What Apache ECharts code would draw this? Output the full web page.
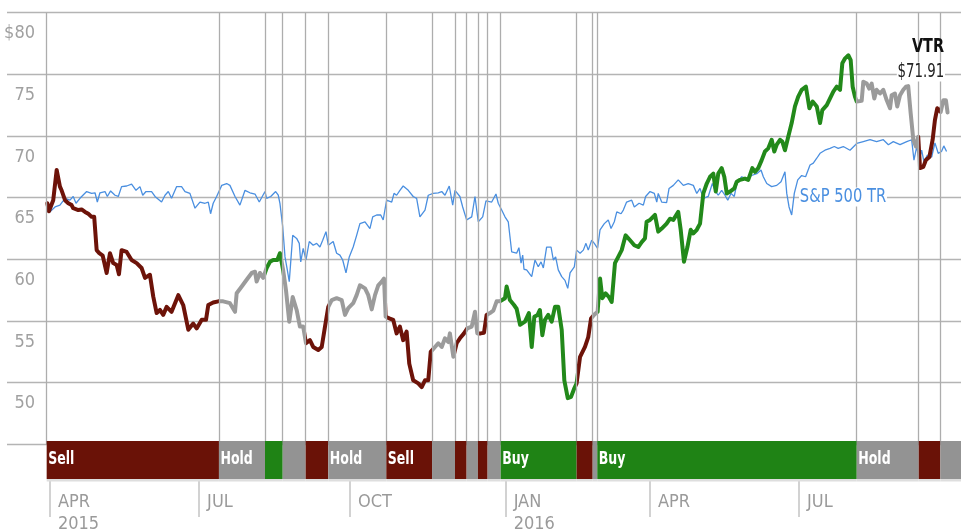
<!DOCTYPE html>
<html>
<head>
    <meta charset="utf-8">
    <title>VTR rating history</title>
    <script src="https://cdn.jsdelivr.net/npm/echarts@6/dist/echarts.min.js"></script>
    <style>
        html, body { margin: 0; padding: 0; background: #fff; }
        #chart { width: 961px; height: 529px; }
    </style>
</head>
<body>
<div id="chart"></div>
<script>
    // days counted from 2015-04-01
    var vtrDays = [-1.6, -0.6, 0, 2.0, 4.1, 5.1, 6.1, 7.1, 9.2, 11.2, 13.2, 14.2, 17.3, 19.3, 21.4, 23.4, 25.4, 27.0,
        28.5, 30.1, 32.2, 34.6, 36.6, 38.6, 40.7, 42.1, 43.7, 46.8, 49.8, 52.9, 55.9, 58.0, 61.0, 63.0, 65.1, 67.1,
        69.1, 71.2, 74.2, 78.3, 81.3, 84.4, 87.4, 89.5, 92.6, 95.2, 96.6, 99.6, 102.7, 105.7, 109.8, 112.9, 113.9,
        117.0, 120.0, 123.1, 125.1, 126.1, 128.1, 130.1, 132.2, 134.2, 136.2, 138.7, 140.3, 141.4, 142.3, 144.0,
        146.0, 148.1, 150.5, 152.5, 154.5, 156.2, 158.6, 160.6, 163.7, 165.8, 167.8, 169.8, 171.9, 174.9, 178.0,
        180.0, 182.0, 185.0, 187.1, 189.1, 192.2, 194.2, 196.3, 198.3, 200.3, 202.4, 203.8, 204.8, 207.4, 209.4,
        211.5, 213.5, 215.5, 217.6, 219.2, 221.6, 224.7, 226.8, 228.8, 230.8, 232.3, 234.9, 236.9, 239.0, 241.0,
        243.0, 244.0, 246.1, 248.1, 250.1, 252.6, 254.6, 257.3, 259.3, 260.7, 262.8, 264.8, 266.4, 268.4, 270.5,
        272.5, 274.5, 277.6, 278.6, 280.6, 283.1, 284.7, 286.8, 289.8, 292.2, 293.9, 295.5, 297.5, 298.9, 300.4,
        302.0, 304.0, 306.1, 308.1, 310.1, 312.2, 313.8, 315.9, 317.9, 319.9, 321.3, 323.4, 326.4, 328.4, 330.1,
        331.9, 334.1, 335.6, 337.0, 339.0, 341.0, 342.7, 344.7, 346.7, 348.8, 351.2, 353.9, 356.5, 358.9, 361.0,
        363.0, 364.0, 366.1, 369.1, 371.1, 373.2, 376.2, 378.3, 380.3, 383.3, 384.8, 386.8, 388.9, 390.9, 392.5,
        394.6, 396.6, 398.6, 400.7, 402.7, 404.7, 406.2, 407.7, 409.8, 411.4, 412.9, 414.9, 417.5, 419.0, 421.0,
        424.0, 426.0, 428.5, 430.1, 432.1, 434.2, 436.2, 438.2, 440.3, 441.9, 443.4, 445.4, 446.8, 448.4, 450.4,
        452.5, 454.5, 456.5, 458.6, 461.2, 463.3, 465.3, 467.8, 469.8, 471.2, 473.9, 475.9, 477.9, 480.0, 482.0,
        483.4, 485.1, 487.1, 488.5, 489.7, 491.1, 492.2, 495.2, 496.2, 498.3, 499.8, 501.3, 502.9, 504.3, 506.4,
        508.4, 510.5, 512.5, 513.5, 515.5, 516.9, 518.6, 520.6, 522.2, 523.6, 525.1, 526.7, 528.3, 529.7, 530.8,
        532.8, 534.4, 536.5, 538.5, 539.9, 541.3, 543.4, 545.0, 546.6, 547.6];
    var vtrPrices = [64.55, 63.9, 64.0, 64.8, 67.25, 67.4, 65.9, 65.6, 64.8, 64.55, 64.4, 64.15, 64.0, 64.05, 63.85, 63.7, 63.45, 63.45,
        60.75, 60.5, 60.3, 58.9, 60.5, 59.7, 59.55, 58.8, 60.75, 60.6, 59.95, 59.7, 59.3, 58.5, 58.75, 57.0, 55.65, 55.9,
        55.5, 56.15, 55.75, 57.1, 56.3, 54.3, 54.8, 54.4, 55.1, 55.1, 56.3, 56.5, 56.6, 56.6, 56.45, 55.75, 57.25,
        57.8, 58.35, 58.9, 59.0, 58.2, 58.9, 58.5, 59.3, 59.8, 59.95, 59.95, 60.5, 60.6, 59.1, 57.5,
        54.95, 56.95, 55.9, 54.55, 54.55, 53.2, 53.45, 52.9, 52.65, 52.9, 54.55, 56.15, 56.7, 56.85, 56.7,
        55.5, 56.05, 56.45, 57.1, 57.9, 57.65, 57.1, 55.95, 57.1, 57.9, 58.2, 58.45, 55.35, 55.2, 55.1,
        54.0, 54.55, 53.45, 54.15, 51.55, 50.2, 49.95, 49.65, 50.2, 50.2, 52.5, 52.9, 53.2, 52.9, 53.6,
        53.3, 54.0, 52.1, 53.2, 53.6, 54.0, 54.4, 54.55, 55.75, 54.0, 54.0, 54.05, 55.5, 55.65, 55.85,
        56.6, 56.6, 56.85, 57.8, 56.7, 56.3, 56.0, 54.7, 54.95, 55.65, 52.9, 55.35, 55.5, 55.9, 53.85,
        55.1, 55.5, 54.95, 56.15, 56.15, 54.3, 50.2, 48.75, 48.85, 49.55, 49.95, 52.1, 52.9, 53.7, 55.2,
        55.5, 55.75, 58.45, 56.85, 57.25, 56.95, 56.55, 59.7, 60.2, 60.75, 61.95, 61.55, 61.15, 61.0, 61.4,
        61.7, 63.05, 63.2, 63.6, 62.25, 62.5, 62.9, 63.3, 63.2, 63.85, 62.4, 59.8, 61.0, 62.4, 62.1,
        62.4, 62.9, 65.35, 66.15, 66.7, 66.95, 65.5, 66.95, 67.4, 66.7, 65.35, 65.5, 65.75, 66.3, 66.45,
        66.55, 66.45, 67.4, 67.1, 67.4, 68.05, 68.75, 69.0, 69.7, 68.75, 69.3, 69.7, 69.55, 68.85, 69.95,
        71.05, 72.4, 73.2, 73.75, 74.0, 72.25, 72.8, 72.4, 71.05, 72.1, 72.5, 73.05, 73.6, 74.0, 73.75,
        75.9, 76.3, 76.55, 76.15, 74.0, 73.2, 72.8, 72.85, 74.4, 74.25, 73.85, 74.25, 73.05, 73.75, 73.45,
        73.75, 72.9, 72.25, 73.3, 73.45, 72.4, 73.3, 73.75, 74.0, 74.05, 71.85, 69.7, 69.15, 69.95, 67.4,
        67.5, 68.05, 68.3, 69.7, 71.3, 72.25, 71.95, 72.9, 72.9, 71.91];

    var spDays = [-1.6, 0, 3.1, 6.1, 9.2, 12.2, 14.2, 15.9, 18.3, 22.4, 25.4, 27.5, 28.9, 30.5, 33.6, 35.0, 37.0, 39.7,
        41.7, 43.7, 46.8, 49.8, 52.5, 54.9, 56.6, 58.6, 62.0, 64.1, 68.1, 70.2, 72.2, 74.2, 77.3, 80.3, 82.4, 85.4,
        88.5, 91.5, 94.6, 96.6, 98.0, 99.6, 101.7, 104.8, 107.8, 109.8, 112.9, 115.9, 119.0, 122.0, 125.1, 127.7,
        131.2, 132.2, 134.7, 137.7, 139.3, 140.3, 142.0, 143.4, 144.8, 146.0, 148.1, 150.5, 152.1, 153.0, 154.5,
        156.2, 158.2, 160.6, 162.7, 164.7, 166.4, 168.4, 169.8, 172.8, 174.9, 176.9, 178.6, 180.6, 182.6, 185.0,
        187.1, 189.1, 192.2, 195.2, 196.9, 199.3, 201.8, 203.3, 205.4, 208.5, 209.9, 211.5, 213.5, 215.5, 218.6,
        221.6, 223.7, 225.7, 228.8, 230.8, 233.8, 236.9, 239.0, 241.0, 243.6, 245.7, 247.1, 250.1, 251.8, 254.2,
        257.3, 259.3, 261.3, 264.0, 266.0, 269.5, 272.1, 273.5, 275.6, 277.6, 279.6, 281.7, 284.7, 286.1, 287.4,
        288.4, 289.2, 290.8, 293.9, 295.9, 297.9, 299.6, 301.0, 303.0, 305.7, 307.1, 308.5, 310.1, 312.2, 314.2,
        315.9, 317.3, 319.9, 321.3, 323.4, 325.4, 327.0, 328.4, 330.5, 332.1, 334.1, 335.6, 338.2, 340.6, 342.3,
        344.3, 345.8, 348.4, 349.8, 351.8, 354.9, 356.5, 359.4, 362.0, 363.4, 366.1, 368.7, 370.2, 371.1, 373.2,
        376.2, 377.7, 380.3, 383.3, 386.4, 389.4, 392.5, 394.6, 396.6, 398.6, 401.6, 404.1, 405.7, 407.7, 409.8,
        411.8, 413.5, 415.5, 417.5, 419.0, 422.0, 425.1, 428.1, 431.2, 433.8, 435.2, 437.3, 440.3, 443.4, 446.0,
        448.4, 449.5, 450.9, 452.5, 454.1, 456.2, 458.6, 461.0, 463.7, 465.7, 467.8, 469.8, 472.8, 475.9, 478.5,
        480.9, 484.0, 488.1, 492.2, 496.2, 500.3, 504.3, 508.4, 511.5, 514.5, 518.6, 522.7, 525.7, 527.1, 528.8,
        530.3, 531.8, 533.2, 535.2, 537.9, 539.9, 541.9, 543.9, 545.3, 547.0];
    var spValues = [64.55, 63.85, 64.25, 64.4, 64.95, 64.8, 65.1, 64.55, 64.95, 65.5, 65.35, 65.4, 64.65, 65.4, 65.5, 65.1, 65.55, 65.2,
        65.1, 65.9, 65.95, 66.1, 65.6, 65.9, 65.2, 65.5, 65.5, 65.1, 64.65, 65.2, 65.5, 64.95, 65.9, 65.9, 65.5, 65.35,
        64.15, 64.65, 64.55, 64.65, 63.7, 64.55, 65.1, 66.0, 66.15, 66.0, 65.1, 64.4, 65.6, 65.4, 65.3, 64.65,
        65.5, 64.95, 65.1, 65.5, 65.2, 64.55, 62.65, 60.2, 59.15, 58.2, 61.95, 61.7, 61.3, 59.8, 60.9,
        59.95, 61.45, 61.15, 61.3, 61.0, 61.55, 62.25, 61.15, 61.45, 60.5, 60.35, 59.95, 58.9, 60.2, 61.0,
        61.95, 62.9, 63.05, 62.5, 63.45, 63.6, 63.6, 63.2, 64.8, 64.65, 65.35, 65.2, 65.6, 65.95, 65.6,
        65.1, 64.95, 63.45, 64.0, 65.2, 65.35, 65.4, 65.5, 65.2, 65.95, 64.4, 65.6, 65.1, 64.25, 63.2,
        63.45, 65.1, 63.05, 63.45, 64.75, 64.65, 65.3, 64.55, 64.0, 63.45, 63.05, 60.6, 60.5, 60.95, 59.7,
        60.35, 59.2, 59.15, 58.6, 59.95, 59.4, 59.8, 59.3, 61.0, 61.0, 59.95, 60.2, 59.15, 58.6, 58.3,
        57.65, 58.9, 59.4, 60.75, 60.5, 60.75, 61.3, 60.75, 61.55, 61.3, 60.9, 62.4, 62.9, 63.2, 62.5,
        63.05, 63.85, 63.7, 64.0, 64.65, 64.8, 64.25, 64.55, 64.4, 65.1, 65.5, 65.35, 64.65, 65.35, 64.65,
        64.6, 65.75, 66.0, 66.45, 66.0, 66.15, 66.0, 65.35, 65.75, 64.95, 65.1, 66.15, 65.6, 65.2, 65.6,
        65.2, 64.8, 65.35, 65.1, 66.15, 66.7, 66.55, 66.8, 66.95, 67.25, 66.7, 66.15, 65.9, 66.0, 66.3,
        67.1, 65.35, 64.25, 63.6, 65.35, 66.45, 66.8, 66.7, 67.65, 67.8, 68.2, 68.6, 68.85, 69.0, 69.15,
        69.0, 69.15, 68.85, 69.4, 69.55, 69.7, 69.55, 69.7, 69.3, 69.55, 69.3, 69.55, 69.7, 68.05, 69.15,
        68.05, 68.85, 67.9, 68.45, 68.3, 69.45, 68.6, 68.75, 69.2, 68.75];

    // analyst rating periods (start day), last one runs to the chart edge
    var ratingStarts = [-2, 103.1, 131.2, 142.0, 156.0, 169.8, 205.2, 233.1, 247.1, 254.2, 261.1, 267.0, 275.0,
        321.3, 331.1, 333.9, 492.2, 530.0, 543.2];
    var ratingNames = ['Sell', 'Hold', 'Buy', 'Hold', 'Sell', 'Hold', 'Sell', 'Hold', 'Sell', 'Hold', 'Sell', 'Hold', 'Buy',
        'Sell', 'Hold', 'Buy', 'Hold', 'Sell', 'Hold'];

    var tickDays = [0, 91, 183, 278, 366, 457];
    var tickLabels = ['APR\n2015', 'JUL', 'OCT', 'JAN\n2016', 'APR', 'JUL'];
    var yTicks = [50, 55, 60, 65, 70, 75, 80];

    var X_MIN = -26.2, X_MAX = 555.8;
    var FONT = "'DejaVu Sans Condensed', 'DejaVu Sans', sans-serif";
    var bandColor = {Sell: '#6a1207', Hold: '#939393', Buy: '#1f8315'};
    var lineColor = {Sell: '#6d1309', Hold: '#9b9b9b', Buy: '#22891a'};

    var vtrData = vtrDays.map(function (d, i) { return [d, vtrPrices[i]]; });
    var spData = spDays.map(function (d, i) { return [d, spValues[i]]; });

    var bandData = ratingStarts.map(function (s, i) {
        var e = i < ratingStarts.length - 1 ? ratingStarts[i + 1] : X_MAX;
        return [s, e, i];
    });

    var pieces = bandData.map(function (b, i) {
        var p = {gte: b[0], color: lineColor[ratingNames[i]]};
        if (i < bandData.length - 1) p.lt = b[1];
        return p;
    });
    pieces[0].gte = X_MIN;

    var tickLabelMap = {};
    tickDays.forEach(function (d, i) { tickLabelMap[d] = tickLabels[i]; });

    var chart = echarts.init(document.getElementById('chart'), null, {renderer: 'canvas'});

    var option = {
        animation: false,
        textStyle: {fontFamily: FONT},
        grid: [
            {left: 7, right: 0, top: 12.7, height: 431.7, outerBoundsMode: 'none'},
            {left: 7, right: 0, top: 441, height: 38, outerBoundsMode: 'none'}
        ],
        xAxis: [
            {
                type: 'value', gridIndex: 0, min: X_MIN, max: X_MAX,
                axisLine: {show: false}, axisTick: {show: false}, axisLabel: {show: false}, splitLine: {show: false}
            },
            {
                type: 'value', gridIndex: 1, min: X_MIN, max: X_MAX, offset: 2,
                axisLine: {show: false},
                splitLine: {show: false},
                axisTick: {
                    show: true, customValues: tickDays, length: 38,
                    lineStyle: {color: '#c4c4c4', width: 1.5}
                },
                axisLabel: {
                    customValues: tickDays,
                    formatter: function (v) { return tickLabelMap[v] || ''; },
                    align: 'left', verticalAlign: 'top', padding: [0, 0, 0, 8],
                    margin: 10, fontSize: 18, lineHeight: 22, color: '#9a9a9a', fontFamily: FONT
                }
            }
        ],
        yAxis: [
            {
                type: 'value', gridIndex: 0, min: 45, max: 80, interval: 5,
                axisLine: {show: false}, axisTick: {show: false},
                splitLine: {lineStyle: {color: '#b4b4b4', width: 1.3}},
                axisLabel: {
                    formatter: function (v) {
                        if (yTicks.indexOf(v) < 0) return '';
                        return v === 80 ? '$' + v : String(v);
                    },
                    margin: -28, align: 'right', verticalAlign: 'top', padding: [12, 0, 0, 0],
                    fontSize: 18, color: '#a0a0a0', fontFamily: FONT
                }
            },
            {type: 'value', gridIndex: 1, min: 0, max: 1, show: false}
        ],
        visualMap: {
            type: 'piecewise', show: false, dimension: 0, seriesIndex: 2, pieces: pieces
        },
        series: [
            {
                // rating change lines
                type: 'line', xAxisIndex: 0, yAxisIndex: 0, data: [], z: 1,
                markLine: {
                    silent: true, symbol: 'none', animation: false,
                    label: {show: false},
                    lineStyle: {color: '#adadad', width: 1.3, type: 'solid'},
                    data: ratingStarts.map(function (s) { return {xAxis: s}; })
                }
            },
            {
                name: 'S&P 500 TR', type: 'line', xAxisIndex: 0, yAxisIndex: 0, data: spData, z: 3,
                showSymbol: false, symbol: 'none',
                lineStyle: {color: '#4a8fe0', width: 1.3}
            },
            {
                name: 'VTR', type: 'line', xAxisIndex: 0, yAxisIndex: 0, data: vtrData, z: 4,
                showSymbol: false, symbol: 'none',
                lineStyle: {width: 4, join: 'round', cap: 'round'}
            },
            {
                type: 'custom', xAxisIndex: 1, yAxisIndex: 1, data: bandData, z: 5,
                renderItem: function (params, api) {
                    var i = api.value(2);
                    var name = ratingNames[i];
                    var p0 = api.coord([api.value(0), 1]);
                    var p1 = api.coord([api.value(1), 0]);
                    var w = p1[0] - p0[0];
                    var h = p1[1] - p0[1];
                    var kids = [
                        {type: 'rect', shape: {x: p0[0], y: p0[1], width: w, height: h}, style: {fill: bandColor[name]}},
                        {type: 'rect', shape: {x: p0[0], y: p1[1], width: w, height: 2.5}, style: {fill: '#dedede'}}
                    ];
                    if (w > 40) {
                        kids.push({
                            type: 'text', x: p0[0] + 1.5, y: (p0[1] + p1[1]) / 2, scaleX: 0.82,
                            style: {
                                text: name, fill: '#fff', font: 'bold 17px ' + FONT,
                                verticalAlign: 'middle'
                            }
                        });
                    }
                    return {type: 'group', children: kids};
                }
            }
        ],
        graphic: [
            {
                type: 'text', x: 944, y: 47, z: 10, scaleX: 0.8,
                style: {text: 'VTR', fill: '#111', font: 'bold 20px ' + FONT, align: 'right', verticalAlign: 'middle'}
            },
            {
                type: 'text', x: 945, y: 72, z: 10, scaleX: 0.78,
                style: {
                    text: '$' + vtrPrices[vtrPrices.length - 1].toFixed(2), fill: '#222', font: '19px ' + FONT,
                    align: 'right', verticalAlign: 'middle', backgroundColor: '#fff', padding: [0, 1]
                }
            },
            {
                type: 'text', x: 799, y: 197, z: 10, scaleX: 0.86,
                style: {
                    text: 'S&P 500 TR', fill: '#4a8fe0', font: '19px ' + FONT,
                    align: 'left', verticalAlign: 'middle', backgroundColor: '#fff', padding: [0, 1]
                }
            }
        ]
    };

    chart.setOption(option);
</script>
</body>
</html>
